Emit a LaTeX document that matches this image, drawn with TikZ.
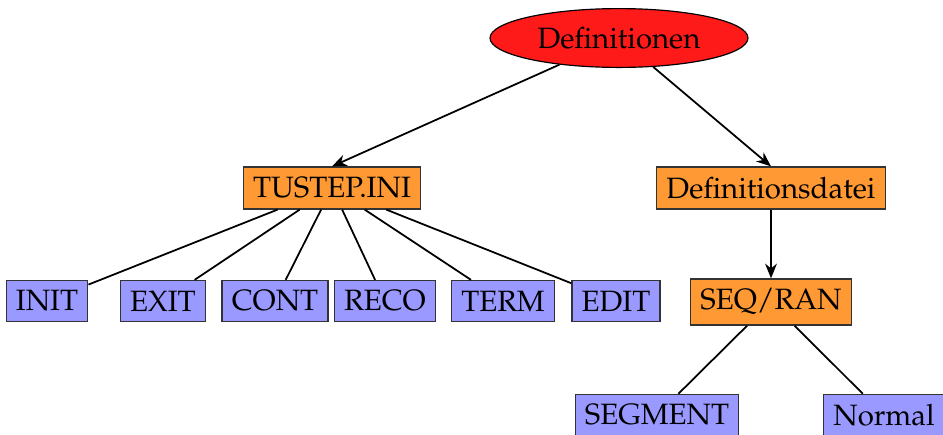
\documentclass[tikz,border=0pt]{standalone}
\usepackage[T1]{fontenc}
\usepackage{mathpazo}
\usetikzlibrary{shapes.geometric,arrows.meta}
\definecolor{rootred}{RGB}{255,26,26}
\definecolor{boxorange}{RGB}{255,153,51}
\definecolor{boxblue}{RGB}{153,153,255}
\tikzset{
  rootnode/.style={ellipse,draw=black,line width=0.4pt,fill=rootred,minimum width=87.7pt,minimum height=20pt,inner sep=0pt},
  midbox/.style={rectangle,draw=black!80,line width=0.4pt,fill=boxorange,minimum height=14.3pt,inner sep=3.3pt},
  leafbox/.style={rectangle,draw=black!80,line width=0.4pt,fill=boxblue,minimum height=14pt,inner sep=3.3pt},
  arr/.style={line width=0.6pt,-{Stealth[length=5pt,width=4pt]}},
  plain/.style={line width=0.6pt}
}
\begin{document}
\begin{tikzpicture}[x=0.34pt,y=-0.34pt]
\useasboundingbox (0,0) rectangle (943,434);
\clip (0,0) rectangle (943,434);
\node[rootnode] (def) at (619,38) {Definitionen};
\node[midbox] (tus) at (332,188) {TUSTEP.INI};
\node[midbox] (ddat) at (771,188) {Definitionsdatei};
\node[midbox] (seq) at (771,302) {SEQ/RAN};
\node[leafbox] (init) at (47,301) {INIT};
\node[leafbox] (exit) at (163,301) {EXIT};
\node[leafbox] (cont) at (275,301) {CONT};
\node[leafbox] (reco) at (385,301) {RECO};
\node[leafbox] (term) at (503,301) {TERM};
\node[leafbox] (edit) at (616,301) {EDIT};
\node[leafbox] (seg) at (657,415) {SEGMENT};
\node[leafbox] (norm) at (884,415) {Normal};
\draw[arr] (def) -- (tus.north);
\draw[arr] (def) -- (ddat.north);
\draw[arr] (ddat) -- (seq);
\foreach \c in {init,exit,cont,reco,term,edit} \draw[plain] (tus) -- (\c);
\draw[plain] (seq) -- (seg);
\draw[plain] (seq) -- (norm);
\end{tikzpicture}
\end{document}
